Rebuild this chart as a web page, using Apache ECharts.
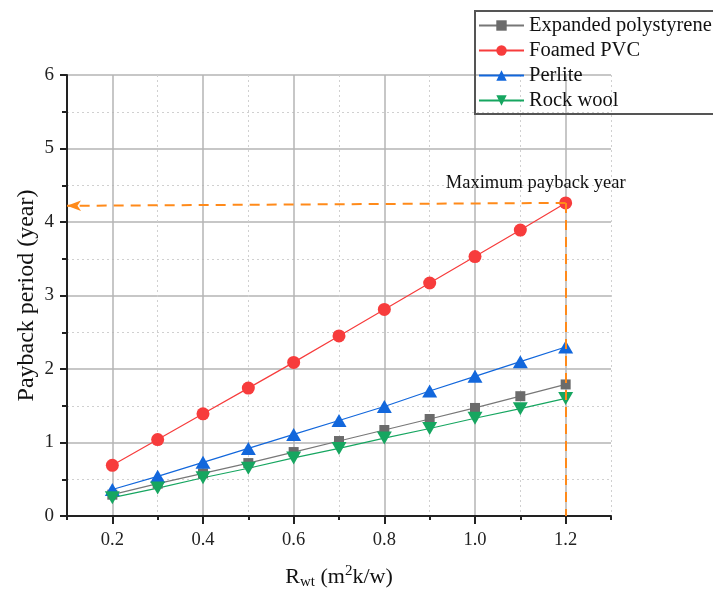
<!DOCTYPE html>
<html>
<head>
<meta charset="utf-8">
<script src="https://cdn.jsdelivr.net/npm/echarts@6/dist/echarts.min.js"></script>
<style>
html, body { margin: 0; padding: 0; background: #fff; }
#main { width: 713px; height: 592px; }
</style>
</head>
<body>
<div id="main"></div>
<script>
// axis categories (0.1 .. 1.3), data only at 0.2 .. 1.2
let axis_cats = ['0.1', '0.2', '0.3', '0.4', '0.5', '0.6', '0.7', '0.8', '0.9', '1.0', '1.1', '1.2', '1.3'];
let r_values = ['0.2', '0.3', '0.4', '0.5', '0.6', '0.7', '0.8', '0.9', '1.0', '1.1', '1.2'];

let eps = [0.29, 0.44, 0.58, 0.72, 0.87, 1.02, 1.17, 1.32, 1.47, 1.63, 1.79];
let pvc = [0.69, 1.04, 1.39, 1.74, 2.09, 2.45, 2.81, 3.17, 3.53, 3.89, 4.26];
let perlite = [0.36, 0.54, 0.73, 0.92, 1.11, 1.30, 1.49, 1.70, 1.90, 2.10, 2.30];
let rockwool = [0.25, 0.38, 0.52, 0.65, 0.79, 0.92, 1.06, 1.19, 1.33, 1.46, 1.60];

let max_point = ['1.2', 4.26];
let arrow_end = ['0.1', 4.22];

const serif = '"Liberation Serif", "Times New Roman", serif';

let chartDom = document.getElementById('main');
let myChart = echarts.init(chartDom);

function pairs(vals) {
	return r_values.map((x, i) => [x, vals[i]]);
}

function is_major(idx) {
	return idx % 2 === 1; // 0.2, 0.4, ...
}

let option = {
	animation: false,
	backgroundColor: '#fff',
	grid: { left: 67, right: 102, top: 75, bottom: 76, outerBoundsMode: 'none', containLabel: false },
	legend: {
		orient: 'vertical',
		left: 475,
		top: 11,
		padding: [4, 60, 3, 3],
		itemGap: 4,
		itemWidth: 45,
		itemHeight: 13,
		borderColor: '#555',
		borderWidth: 2,
		textStyle: { fontFamily: serif, fontSize: 20.5, color: '#111' },
		data: ['Expanded polystyrene', 'Foamed PVC', 'Perlite', 'Rock wool']
	},
	xAxis: [{
		type: 'category',
		data: axis_cats,
		boundaryGap: false,
		name: '{n|R}{sub|wt}{n| (m}{sup|2}{n|k/w)}',
		nameLocation: 'middle',
		nameGap: 48,
		nameMoveOverlap: false,
		nameTextStyle: {
			fontFamily: serif,
			color: '#111',
			rich: {
				n: { fontFamily: serif, fontSize: 22, color: '#111', lineHeight: 26 },
				sub: { fontFamily: serif, fontSize: 15, color: '#111', lineHeight: 26, padding: [10, 0, 0, 0] },
				sup: { fontFamily: serif, fontSize: 15, color: '#111', lineHeight: 26, padding: [0, 0, 12, 0] }
			}
		},
		axisLine: { lineStyle: { color: '#222', width: 2 } },
		axisTick: { show: true, interval: 0, length: 4, lineStyle: { color: '#222', width: 2 } },
		axisLabel: {
			interval: (idx) => is_major(idx),
			margin: 15,
			fontFamily: serif,
			fontSize: 18.5,
			color: '#222'
		},
		splitLine: {
			show: true,
			interval: (idx) => !is_major(idx) && idx !== 0,
			lineStyle: { color: '#d0d0d0', width: 1, type: [2, 3] }
		}
	}, {
		type: 'category',
		data: axis_cats,
		boundaryGap: false,
		position: 'bottom',
		axisLine: { show: false },
		axisTick: { show: true, interval: (idx) => is_major(idx), length: 8, lineStyle: { color: '#222', width: 2 } },
		axisLabel: { show: false },
		splitLine: {
			show: true,
			interval: (idx) => is_major(idx),
			lineStyle: { color: '#b4b4b4', width: 1.5 }
		}
	}],
	yAxis: {
		type: 'value',
		min: 0,
		max: 6,
		interval: 1,
		name: 'Payback period (year)',
		nameLocation: 'middle',
		nameGap: 28,
		nameMoveOverlap: false,
		nameTextStyle: { fontFamily: serif, fontSize: 24, color: '#111' },
		axisLine: { show: true, lineStyle: { color: '#222', width: 2 } },
		axisTick: { show: true, length: 7, lineStyle: { color: '#222', width: 2 } },
		minorTick: { show: true, splitNumber: 2, length: 5, lineStyle: { color: '#222', width: 2 } },
		axisLabel: { margin: 13, fontFamily: serif, fontSize: 19, color: '#222' },
		splitLine: { show: true, lineStyle: { color: '#b4b4b4', width: 1.5 } },
		minorSplitLine: { show: true, lineStyle: { color: '#d0d0d0', width: 1, type: [2, 3] } }
	},
	series: [{
		name: 'Expanded polystyrene',
		type: 'line',
		data: pairs(eps),
		symbol: 'rect',
		symbolSize: 10,
		color: '#6b6b6b',
		lineStyle: { width: 1.2, color: '#777' },
		z: 3
	}, {
		name: 'Foamed PVC',
		type: 'line',
		data: pairs(pvc),
		symbol: 'circle',
		symbolSize: 13,
		color: '#f73c3c',
		lineStyle: { width: 1.2 },
		z: 3,
		markLine: {
			silent: true,
			symbol: ['none', 'arrow'],
			symbolSize: [8, 14],
			label: { show: false },
			lineStyle: { color: '#ff8a1a', width: 2, type: [10, 7] },
			data: [
				[{ coord: max_point }, { coord: arrow_end }],
				[{ coord: max_point, symbol: 'none' }, { coord: ['1.2', 0], symbol: 'none' }]
			]
		},
		markPoint: {
			silent: true,
			symbol: 'circle',
			symbolSize: 0,
			data: [{ coord: max_point }],
			label: {
				show: true,
				position: 'top',
				offset: [-30, -5],
				formatter: 'Maximum payback year',
				fontFamily: serif,
				fontSize: 18.5,
				color: '#111'
			}
		}
	}, {
		name: 'Perlite',
		type: 'line',
		data: pairs(perlite),
		symbol: 'triangle',
		symbolSize: [15, 13],
		color: '#1267dc',
		lineStyle: { width: 1.2 },
		z: 3
	}, {
		name: 'Rock wool',
		type: 'line',
		data: pairs(rockwool),
		symbol: 'triangle',
		symbolRotate: 180,
		symbolSize: [15, 13],
		color: '#16a660',
		lineStyle: { width: 1.2 },
		z: 3
	}]
};

myChart.setOption(option);
</script>
</body>
</html>
